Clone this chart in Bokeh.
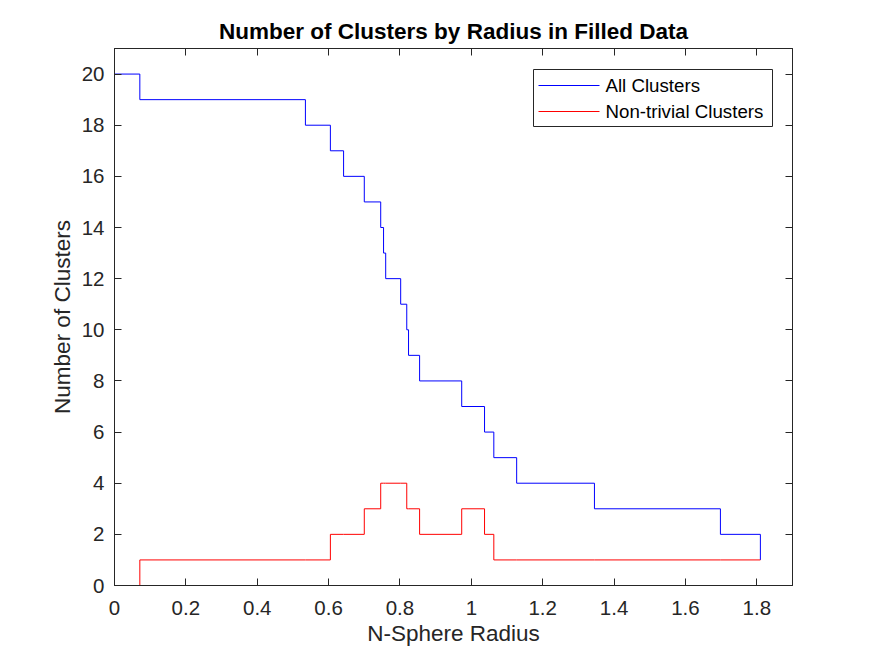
import numpy as np
from bokeh.plotting import figure
from bokeh.models import LinearAxis, FixedTicker, Range1d, Label
from bokeh.embed import file_html
from bokeh.resources import INLINE

# ---- data ----
radius = [0.0, 0.071, 0.535, 0.605, 0.642, 0.700, 0.746, 0.754, 0.760, 0.802,
          0.819, 0.824, 0.855, 0.973, 1.037, 1.063, 1.127, 1.345, 1.698, 1.810]
all_clusters = [20, 19, 18, 17, 16, 15, 14, 13, 12, 11,
                10, 9, 8, 7, 6, 5, 4, 3, 2, 1]
nontrivial_clusters = [0, 1, 1, 2, 2, 3, 4, 4, 4, 4,
                       3, 3, 2, 3, 2, 1, 1, 1, 1, 1]
series_names = ["All Clusters", "Non-trivial Clusters"]

x_ticks = [0, 0.2, 0.4, 0.6, 0.8, 1.0, 1.2, 1.4, 1.6, 1.8]
x_tick_labels = ["0", "0.2", "0.4", "0.6", "0.8", "1", "1.2", "1.4", "1.6", "1.8"]
y_ticks = [0, 2, 4, 6, 8, 10, 12, 14, 16, 18, 20]
y_tick_labels = [str(v) for v in y_ticks]

FONT = "Liberation Sans"
AX = "#262626"
BLUE = "#0000FF"
RED = "#FF0000"
series_colors = [BLUE, RED]

X_MIN, X_MAX = 0, 1.9
Y_MIN, Y_MAX = 0, 21


def stairs(x, y):
    """Vertices of a MATLAB-style stairs plot (value held until next x)."""
    x = np.asarray(x, dtype=float)
    y = np.asarray(y, dtype=float)
    xs = np.repeat(x, 2)[1:]
    ys = np.repeat(y, 2)[:-1]
    return xs, ys


FW, FH = 678, 537
p = figure(frame_width=FW, frame_height=FH,
           x_range=Range1d(X_MIN, X_MAX), y_range=Range1d(Y_MIN, Y_MAX),
           output_backend="svg", toolbar_location=None,
           min_border_left=114, min_border_top=48,
           min_border_right=60, min_border_bottom=60,
           background_fill_color="white", border_fill_color="white")

p.title.text = "Number of Clusters by Radius in Filled Data"
p.title.text_font = FONT
p.title.text_font_size = "22.5px"
p.title.text_font_style = "bold"
p.title.text_color = "black"
p.title.align = "center"

p.xgrid.visible = False
p.ygrid.visible = False
p.outline_line_color = AX
p.outline_line_width = 1

def style_axis(ax):
    ax.axis_line_color = AX
    ax.axis_line_width = 1
    ax.major_tick_line_color = AX
    ax.major_tick_line_width = 1
    ax.major_tick_in = 7
    ax.major_tick_out = 0
    ax.minor_tick_in = 0
    ax.minor_tick_out = 0
    ax.minor_tick_line_color = None
    ax.major_label_text_font = FONT
    ax.major_label_text_font_size = "20.5px"
    ax.major_label_text_color = AX
    ax.axis_label_text_font = FONT
    ax.axis_label_text_font_size = "22.5px"
    ax.axis_label_text_font_style = "normal"
    ax.axis_label_text_color = AX

xa = p.xaxis[0]
xa.ticker = FixedTicker(ticks=x_ticks)
xa.major_label_overrides = {t: l for t, l in zip(x_ticks, x_tick_labels)}
xa.axis_label = "N-Sphere Radius"
style_axis(xa)
xa.major_label_standoff = 15
xa.axis_label_standoff = 3

ya = p.yaxis[0]
ya.ticker = FixedTicker(ticks=y_ticks)
ya.major_label_overrides = {t: l for t, l in zip(y_ticks, y_tick_labels)}
ya.axis_label = "Number of Clusters"
style_axis(ya)
ya.major_label_standoff = 10
ya.axis_label_standoff = 4

top = LinearAxis(ticker=FixedTicker(ticks=x_ticks))
style_axis(top)
top.major_label_text_font_size = "0px"
top.major_label_standoff = 0
p.add_layout(top, "above")

right = LinearAxis(ticker=FixedTicker(ticks=y_ticks))
style_axis(right)
right.major_label_text_font_size = "0px"
right.major_label_standoff = 0
p.add_layout(right, "right")

# ---- legend layout, in frame pixels from the bottom-left corner ----
LG_LEFT, LG_RIGHT = FW - 259, FW - 20
LG_TOP, LG_BOTTOM = FH - 21, FH - 78
ROW_Y = [FH - 37, FH - 63]
SW_X0, SW_X1 = LG_LEFT + 5, LG_LEFT + 66
TXT_X = SW_X1 + 6

def px2x(v):
    return X_MIN + v * (X_MAX - X_MIN) / FW

def px2y(v):
    return Y_MIN + v * (Y_MAX - Y_MIN) / FH

# legend box (drawn first, in the glyph layer)
p.quad(left=[px2x(LG_LEFT)], right=[px2x(LG_RIGHT)],
       bottom=[px2y(LG_BOTTOM)], top=[px2y(LG_TOP)],
       fill_color="white", fill_alpha=1.0, line_color=AX, line_width=1)

# data series
bx, by = stairs(radius, all_clusters)
rx, ry = stairs(radius, nontrivial_clusters)
p.line(bx, by, line_color=BLUE, line_width=1)
p.line(rx, ry, line_color=RED, line_width=1)

# legend swatches and labels
for name, col, yy in zip(series_names, series_colors, ROW_Y):
    p.line([px2x(SW_X0), px2x(SW_X1)], [px2y(yy), px2y(yy)],
           line_color=col, line_width=1)
    p.add_layout(Label(x=TXT_X, y=yy, x_units="screen", y_units="screen",
                       text=name, text_baseline="middle", text_align="left",
                       text_font=FONT, text_font_size="18.7px",
                       text_color="black"))

open("out.html", "w").write(file_html(p, INLINE))
